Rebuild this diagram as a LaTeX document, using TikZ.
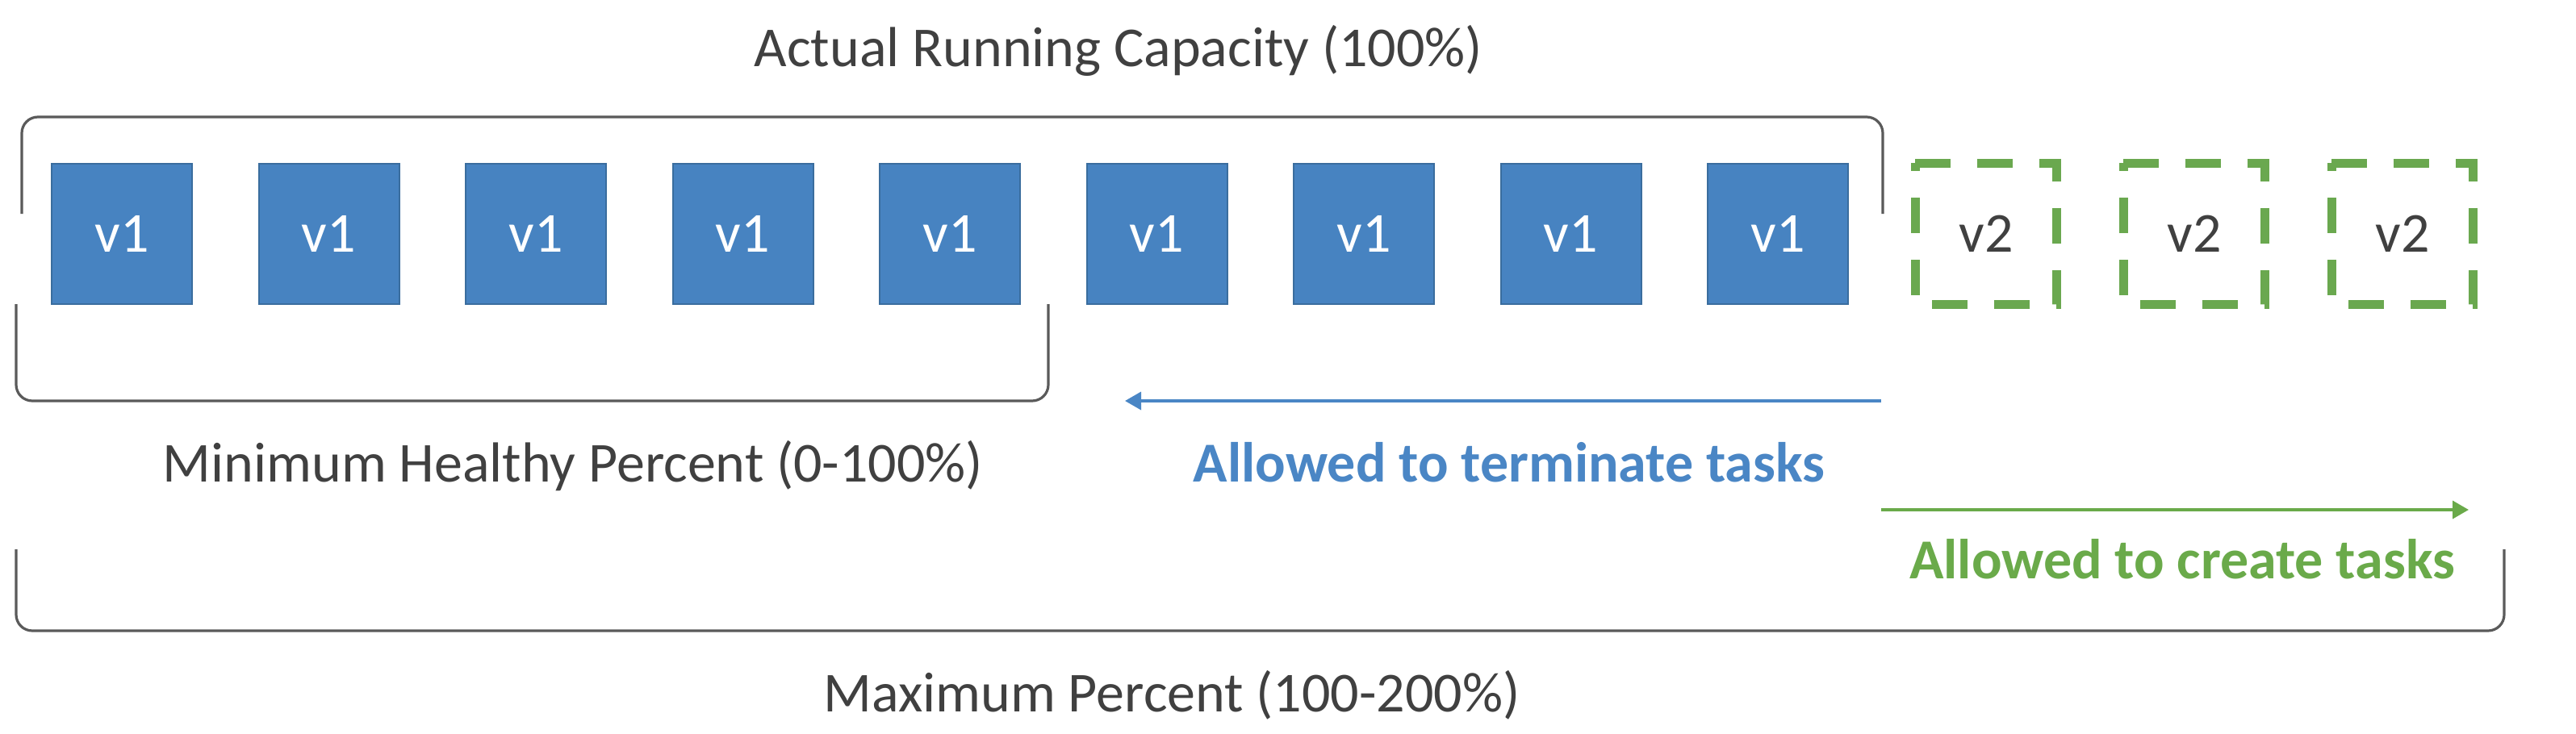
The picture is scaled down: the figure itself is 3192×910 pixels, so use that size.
\documentclass[tikz,border=0pt]{standalone}
\usepackage{fontspec}
\setmainfont{Carlito}
\usetikzlibrary{arrows.meta}
\definecolor{boxblue}{HTML}{4783C1}
\definecolor{boxedge}{HTML}{3A6D9E}
\definecolor{dashgreen}{HTML}{6AA84F}
\definecolor{txtgray}{HTML}{404040}
\definecolor{linegray}{HTML}{5A5A5A}
\definecolor{termblue}{HTML}{4A86C5}
\definecolor{creategreen}{HTML}{6AAA4A}
\begin{document}
\begin{tikzpicture}[x=0.25pt,y=-0.25pt,
  txt/.style={font=\fontsize{17.5}{21}\selectfont},
  v1box/.style={txt,draw=boxedge,line width=0.5pt,fill=boxblue,minimum size=43.5pt,inner sep=0pt,text=white},
  v2box/.style={txt,minimum size=43.5pt,inner sep=0pt,text=txtgray},
  v2edge/.style={draw=dashgreen,line width=2.75pt,dash pattern=on 11pt off 8.25pt,line join=miter},
  brack/.style={draw=linegray,line width=0.8pt,rounded corners=5pt},
  label/.style={txt,text=txtgray,anchor=base,inner sep=0pt},
  boldlabel/.style={txt,font=\fontsize{17.5}{21}\selectfont\bfseries,anchor=base,inner sep=0pt},
  termarrow/.style={draw=termblue,line width=0.9pt,-{Triangle[length=5pt,width=5.5pt]}},
  createarrow/.style={draw=creategreen,line width=0.9pt,-{Triangle[length=5pt,width=5.5pt]}}
]
\useasboundingbox (0,0) rectangle (3192,910);

% v1 tasks
\foreach \i in {0,...,8} {
  \node[v1box] (a\i) at ({151+256.5*\i},290) {v1};
}
% v2 tasks
\foreach \j in {1,2,3} {
  \node[v2box] (b\j) at ({2203+258*\j},290) {v2};
  \draw[v2edge] (b\j.north west) -- (b\j.north east) -- (b\j.south east) -- (b\j.south west) -- cycle;
}

% Actual running capacity bracket
\coordinate (t1) at (27,265);
\coordinate (t2) at (27,145);
\coordinate (t3) at (2333,145);
\coordinate (t4) at (2333,265);
\draw[brack] (t1) -- (t2) -- (t3) -- (t4);

% Minimum healthy bracket
\coordinate (m1) at (20,377);
\coordinate (m2) at (20,497);
\coordinate (m3) at (1299,497);
\coordinate (m4) at (1299,377);
\draw[brack] (m1) -- (m2) -- (m3) -- (m4);

% Maximum percent bracket
\coordinate (x1) at (20,681);
\coordinate (x2) at (20,782);
\coordinate (x3) at (3103,782);
\coordinate (x4) at (3103,681);
\draw[brack] (x1) -- (x2) -- (x3) -- (x4);

% Labels
\node[label] (title) at (1386,82) {Actual Running Capacity (100\%)};
\node[label] (minl) at (710,597) {Minimum Healthy Percent (0-100\%)};
\node[label] (maxl) at (1452,882) {Maximum Percent (100-200\%)};
\node[boldlabel,text=termblue] (term) at (1870,597) {Allowed to terminate tasks};
\node[boldlabel,text=creategreen] (create) at (2704,717) {Allowed to create tasks};

% Arrows
\coordinate (ta) at (2331,497);
\coordinate (tb) at (1394,497);
\draw[termarrow] (ta) -- (tb);
\coordinate (ca) at (2331,632);
\coordinate (cb) at (3059,632);
\draw[createarrow] (ca) -- (cb);
\end{tikzpicture}
\end{document}
